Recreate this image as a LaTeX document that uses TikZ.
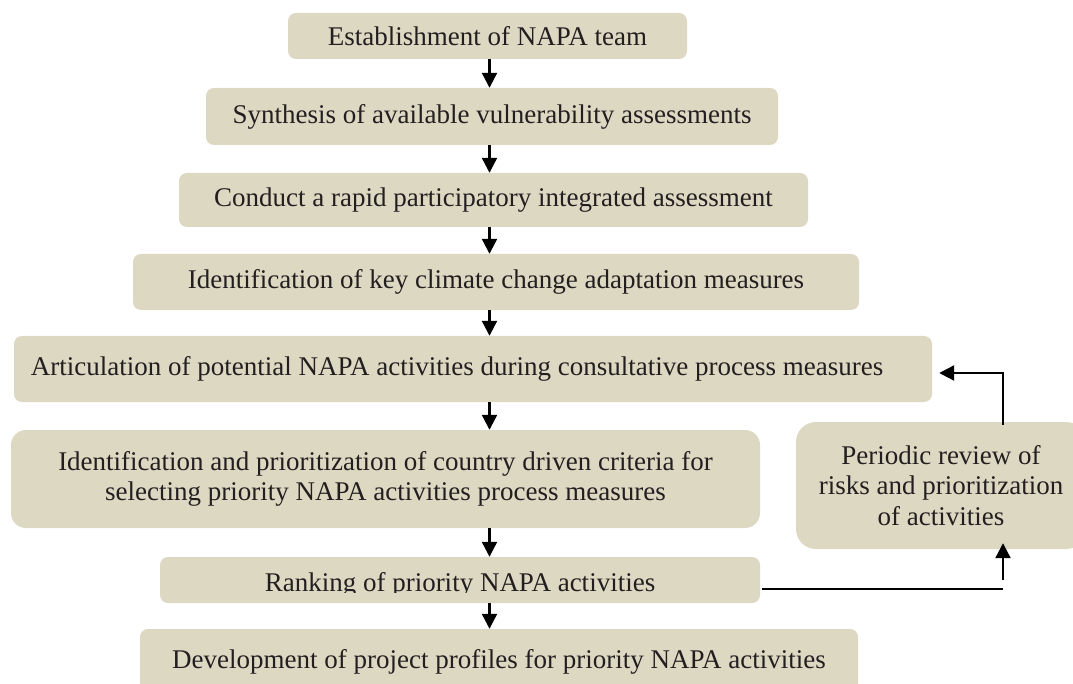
\documentclass[tikz,border=0pt]{standalone}
\usepackage{fontspec}
\setmainfont{Liberation Serif}
\usetikzlibrary{arrows.meta,calc}
\definecolor{boxfill}{RGB}{221,216,194}
\definecolor{txt}{RGB}{35,31,32}
\begin{document}
\begin{tikzpicture}[x=1pt,y=-1pt,
  box/.style={fill=boxfill,draw=none,rounded corners=8pt,inner sep=0pt,align=center,
    text=txt,font=\fontsize{27}{30.5}\selectfont},
  flow/.style={line width=2.2pt,-{Triangle[length=15pt,width=15pt]}},
  link/.style={line width=2.2pt}]
\useasboundingbox (0,0) rectangle (1073,684);
% boxes
\node[box,minimum width=399pt,minimum height=46pt] (b1) at (487.5,36) {Establishment of NAPA team};
\node[box,minimum width=572pt,minimum height=57pt] (b2) at (492,116.5) {Synthesis of available vulnerability assessments};
\node[box,minimum width=629pt,minimum height=54pt] (b3) at (493.5,200) {Conduct a rapid participatory integrated assessment};
\node[box,minimum width=726pt,minimum height=56pt] (b4) at (496,282) {Identification of key climate change adaptation measures};
\node[box,minimum width=918pt,minimum height=66pt] (b5) at (473,369) {Articulation of potential NAPA activities during consultative process measures\hspace*{32pt}};
\node[box,rounded corners=15pt,minimum width=749pt,minimum height=98pt] (b6) at (385.5,479) {Identification and prioritization of country driven criteria for\\selecting priority NAPA activities process measures};
\node[box,minimum width=600pt,minimum height=46pt] (b7) at (460,580) {};
\begin{scope}
  \clip (160,557) rectangle (760,592.5);
  \node[box,fill=none] (t7) at (460,585) {Ranking of priority NAPA activities};
\end{scope}
\node[box,minimum width=718pt,minimum height=66pt] (b8) at (499,662) {Development of project profiles for priority NAPA activities};
\node[box,rounded corners=20pt,minimum width=290pt,minimum height=127pt] (b9) at (941,485.5) {Periodic review of\\risks and prioritization\\of activities};
% spine coordinate
\coordinate (sp) at (489.5,0);
\coordinate (fb) at (1003,0);
\draw[flow] (b1.south -| sp) -- (b2.north -| sp);
\draw[flow] (b2.south -| sp) -- (b3.north -| sp);
\draw[flow] (b3.south -| sp) -- (b4.north -| sp);
\draw[flow] (b4.south -| sp) -- (b5.north -| sp);
\draw[flow] (b5.south -| sp) -- (b6.north -| sp);
\draw[flow] (b6.south -| sp) -- (b7.north -| sp);
\draw[flow] (b7.south -| sp) -- (b8.north -| sp);
% feedback loop
\coordinate (h1) at ($(b7.east)+(2,9)$);
\coordinate (h2) at (h1 -| fb);
\coordinate (u1) at ($(h2)+(0,-9)$);
\draw[link] (h1) -- (h2);
\draw[flow] (u1) -- ($(b9.south -| fb)+(0,-6)$);
\coordinate (v1) at ($(b9.north -| fb)+(0,3)$);
\coordinate (v2) at (fb |- 0,373);
\draw[line width=2.2pt,-{Triangle[length=15pt,width=15pt]}] (v1) -- (v2) -- ($(b5.east |- v2)+(7,0)$);
\end{tikzpicture}
\end{document}
